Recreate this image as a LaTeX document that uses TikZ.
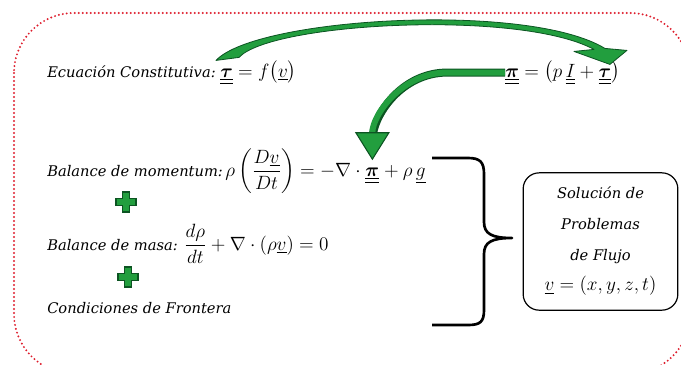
\documentclass[tikz,border=0pt]{standalone}
\usepackage{amsmath,amssymb,bm}
\usepackage{fontspec}
\setmainfont{DejaVu Serif}
\usetikzlibrary{positioning,calc,arrows.meta}

\definecolor{flechaverde}{RGB}{34,158,62}
\definecolor{bordeverde}{RGB}{12,84,34}
\definecolor{rojopunto}{RGB}{222,30,45}

\newcommand{\tens}[1]{\underline{\underline{\boldsymbol{#1}}}}
\newcommand{\vect}[1]{\underline{#1}}
\newcommand{\mat}[1]{{\fontsize{14}{16}\selectfont$#1$}}

\tikzstyle{eq}    = [inner sep=0pt, anchor=base west, font=\fontsize{11}{13}\selectfont\itshape]
\tikzstyle{caja}  = [draw, rounded corners=12pt, line width=0.9pt, minimum width=116pt,
                     minimum height=103pt, align=center, font=\fontsize{11}{23}\selectfont\itshape]
\tikzstyle{llave} = [line width=2pt, line join=round]
\tikzset{mas/.pic={
  \filldraw[fill=flechaverde, draw=bordeverde, line width=0.8pt]
    (-3.5,-10) -- (3.5,-10) -- (3.5,-3.5) -- (10,-3.5) -- (10,3.5) -- (3.5,3.5) -- (3.5,10)
    -- (-3.5,10) -- (-3.5,3.5) -- (-10,3.5) -- (-10,-3.5) -- (-3.5,-3.5) -- cycle;}}

\begin{document}
\begin{tikzpicture}[x=0.75pt, y=-0.75pt]
  \useasboundingbox (0,0) rectangle (681,364);

  % --- Marco punteado ---
  \draw[rojopunto, line width=1.6pt, dash pattern=on 0pt off 3pt, line cap=round,
        rounded corners=45pt] (14,13) rectangle (690,374);

  % --- Ecuaciones ---
  \node[eq] (ce)  at (47,77) {Ecuación Constitutiva:};
  \node[eq] (cet) at ([xshift=3pt]ce.base east) {\mat{\tens{\tau} = f\bigl(\vect{v}\bigr)}};
  \node[eq] (pe)  at (505,77) {\mat{\tens{\pi} = \bigl(p\,\underline{\underline{I}} + \tens{\tau}\bigr)}};

  \node[eq] (bm)   at (47,176) {Balance de momentum:\,\mat{\rho\left(\dfrac{D\vect{v}}{Dt}\right) = -\nabla\cdot{}}};
  \node[eq] (bmpi) at (bm.base east) {\mat{\tens{\pi}}};
  \node[eq] (bmg)  at (bmpi.base east) {\mat{{}+\rho\,\vect{g}}};

  \node[eq] (bma) at (47,250) {Balance de masa: \mat{\dfrac{d\rho}{dt} + \nabla\cdot(\rho\vect{v}) = 0}};
  \node[eq] (cf)  at (47,313) {Condiciones de Frontera};

  \pic at (126,202) {mas};
  \pic at (128,277) {mas};

  % --- Llave ---
  \draw[llave] (432,158) -- (468,158) .. controls (480,158) and (484,162) .. (484,174)
    -- (484,222) .. controls (484,234) and (492,238) .. (512,238)
    .. controls (492,238) and (484,242) .. (484,254)
    -- (484,310) .. controls (484,322) and (480,325) .. (468,325) -- (432,325);

  % --- Solucion ---
  \node[caja] (sol) at (600.5,241.5) {Solución de\\Problemas\\de Flujo\\\mat{\vect{v} = (x, y, z, t)}};

  % --- Flecha curva (constitutiva -> pi) ---
  \coordinate (a1s) at ($(cet.north west)+(-4,0)$);
  \coordinate (a1e) at ($(pe.north east)+(-10,4)$);
  \filldraw[fill=flechaverde, draw=bordeverde, line width=0.6pt, line join=round]
    (a1s) .. controls ($(a1s)+(40,-43)$) and ($(a1e)+(-82,-63)$) .. ($(a1e)+(-5,-16)$)
    -- ($(a1e)+(17,-14)$) -- (a1e) -- ($(a1e)+(-36,-13)$) -- ($(a1e)+(-16,-15)$)
    .. controls ($(a1e)+(-90,-55)$) and ($(a1s)+(55,-38)$) .. ($(a1s)+(23,-3)$) -- cycle;

  % --- Flecha pi -> balance de momentum ---
  \coordinate (a2e) at ($(bmpi.north)+(0,-7)$);
  \draw[bordeverde, line width=6pt, shorten >=15pt]
    (pe.west) -- ++(-58,0) .. controls +(-45,0) and +(0,-45) .. (a2e);
  \draw[flechaverde, line width=4.5pt,
        -{Triangle[width=26pt, length=21pt, line width=0.8pt, color=bordeverde, fill=flechaverde]}]
    (pe.west) -- ++(-58,0) .. controls +(-45,0) and +(0,-45) .. (a2e);
\end{tikzpicture}
\end{document}
